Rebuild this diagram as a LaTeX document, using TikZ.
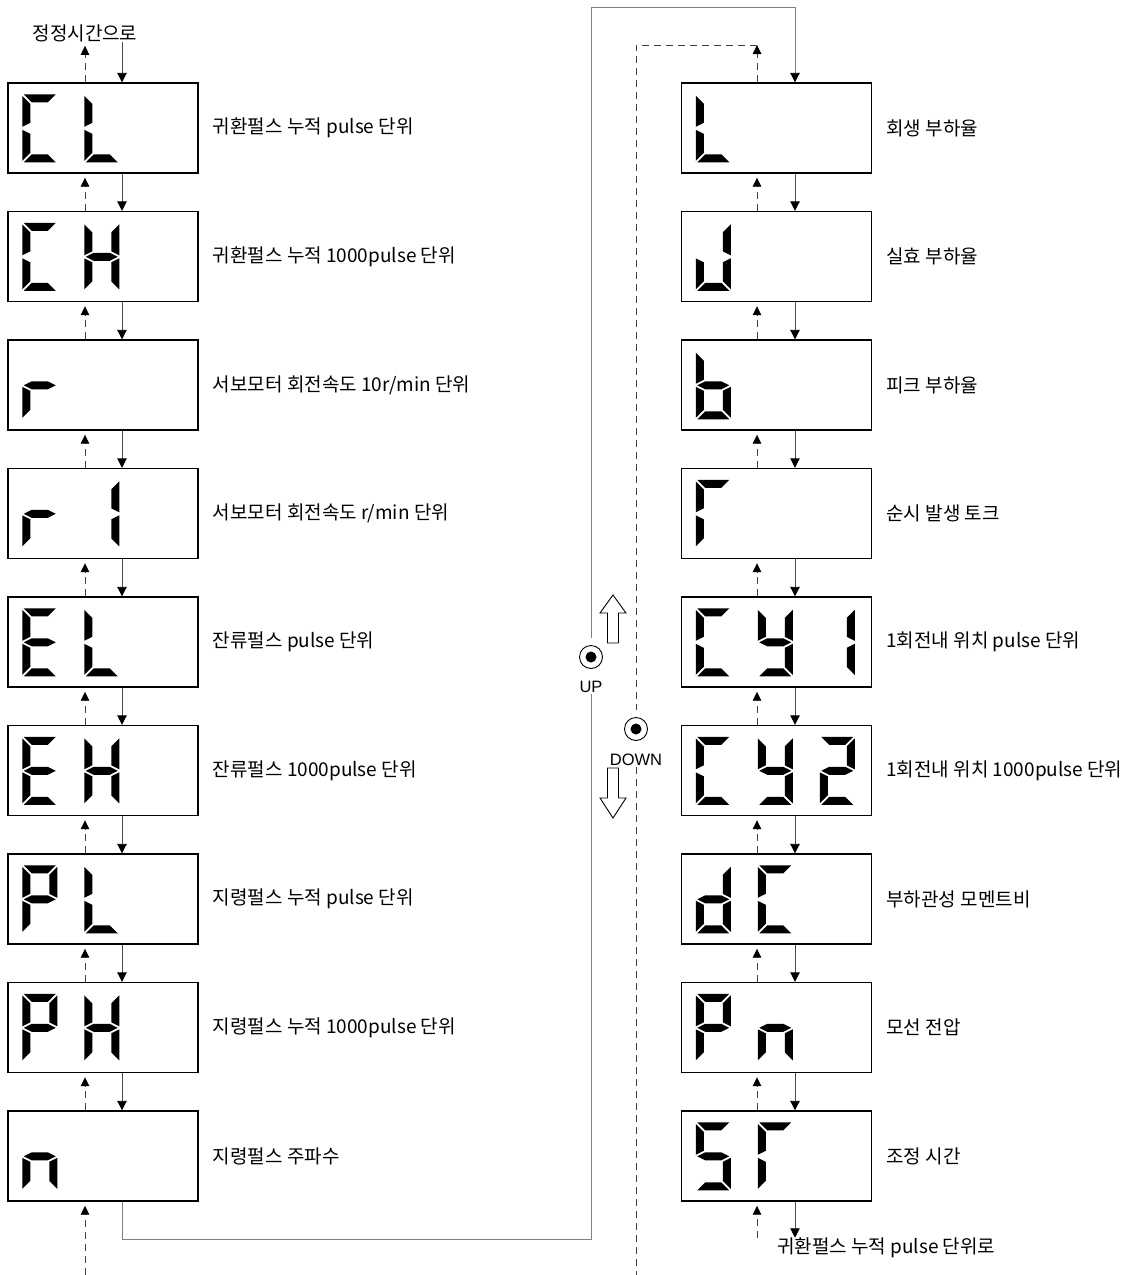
\documentclass[tikz,border=0pt]{standalone}
\usepackage{fontspec}
\newfontfamily\krfont{Noto Sans CJK KR}
\newfontfamily\btnfont{Liberation Sans}
\usetikzlibrary{calc,positioning,arrows.meta}

\def\sega{(1.5,0) -- (33.5,0) -- (25.5,8) -- (9.5,8) -- cycle}
\def\segb{(35,1.5) -- (35,32.5) -- (27,28.5) -- (27,9.5) -- cycle}
\def\segc{(35,35.5) -- (35,66.5) -- (27,58.5) -- (27,39.5) -- cycle}
\def\segd{(1.5,68) -- (33.5,68) -- (25.5,60) -- (9.5,60) -- cycle}
\def\sege{(0,35.5) -- (8,39.5) -- (8,58.5) -- (0,66.5) -- cycle}
\def\segf{(0,1.5) -- (8,9.5) -- (8,28.5) -- (0,32.5) -- cycle}
\def\segg{(1.5,34) -- (9.5,30) -- (25.5,30) -- (33.5,34) -- (25.5,38) -- (9.5,38) -- cycle}

\newcommand{\lcd}[3]{%
  \foreach \sg in {#3}{%
    \expandafter\let\expandafter\segpath\csname seg\sg\endcsname
    \fill[shift={($(#1.north west)+({15+62*#2},12)$)}] \segpath;}}

\begin{document}
\begin{tikzpicture}[x=1pt,y=-1pt,
    dispbox/.style={draw, line width=1.4pt, minimum width=190pt, minimum height=90pt, inner sep=0pt},
    lbl/.style={font=\krfont\fontsize{19}{22}\selectfont, inner sep=0pt},
    fwd/.style={draw=black!70, line width=0.9pt, -{Triangle[length=9.5pt,width=9.5pt,color=black]}},
    bwd/.style={draw=black!75, line width=0.9pt, dash pattern=on 7pt off 5pt, -{Triangle[length=9pt,width=8.5pt,color=black]}},
    loopline/.style={draw=black!50, line width=0.9pt},
    dashline/.style={draw=black!75, line width=0.9pt, dash pattern=on 7pt off 5pt},
    btn/.style={circle, draw, line width=0.9pt, minimum size=23pt, inner sep=0pt,
      path picture={\fill (path picture bounding box.center) circle (5.5pt);}},
    btnlbl/.style={font=\btnfont\fontsize{16.5}{18}\selectfont, inner sep=1pt},
    hollow/.style={draw, line width=0.9pt, fill=white}]
  \useasboundingbox (0,0) rectangle (1135,1275);

  \node[dispbox] (cl)   at (103,128)    {};
  \node[dispbox] (ch)   at (103,256.5)  {};
  \node[dispbox] (rten) at (103,385)    {};
  \node[dispbox] (rone) at (103,513.5)  {};
  \node[dispbox] (el)   at (103,642)    {};
  \node[dispbox] (eh)   at (103,770.5)  {};
  \node[dispbox] (pl)   at (103,899)    {};
  \node[dispbox] (ph)   at (103,1027.5) {};
  \node[dispbox] (nf)   at (103,1156)   {};

  \node[dispbox] (lr)  at (776.5,128)    {};
  \node[dispbox] (jr)  at (776.5,256.5)  {};
  \node[dispbox] (br)  at (776.5,385)    {};
  \node[dispbox] (tr)  at (776.5,513.5)  {};
  \node[dispbox] (cya) at (776.5,642)    {};
  \node[dispbox] (cyb) at (776.5,770.5)  {};
  \node[dispbox] (dc)  at (776.5,899)    {};
  \node[dispbox] (pn)  at (776.5,1027.5) {};
  \node[dispbox] (st)  at (776.5,1156)   {};

  \node[lbl, right=14pt of cl]   (cl-t)   {귀환펄스 누적 pulse 단위};
  \node[lbl, right=14pt of ch]   (ch-t)   {귀환펄스 누적 1000pulse 단위};
  \node[lbl, right=14pt of rten] (rten-t) {서보모터 회전속도 10r/min 단위};
  \node[lbl, right=14pt of rone] (rone-t) {서보모터 회전속도 r/min 단위};
  \node[lbl, right=14pt of el]   (el-t)   {잔류펄스 pulse 단위};
  \node[lbl, right=14pt of eh]   (eh-t)   {잔류펄스 1000pulse 단위};
  \node[lbl, right=14pt of pl]   (pl-t)   {지령펄스 누적 pulse 단위};
  \node[lbl, right=14pt of ph]   (ph-t)   {지령펄스 누적 1000pulse 단위};
  \node[lbl, right=14pt of nf]   (nf-t)   {지령펄스 주파수};

  \node[lbl, right=14pt of lr]  (lr-t)  {회생 부하율};
  \node[lbl, right=14pt of jr]  (jr-t)  {실효 부하율};
  \node[lbl, right=14pt of br]  (br-t)  {피크 부하율};
  \node[lbl, right=14pt of tr]  (tr-t)  {순시 발생 토크};
  \node[lbl, right=14pt of cya] (cya-t) {1회전내 위치 pulse 단위};
  \node[lbl, right=14pt of cyb] (cyb-t) {1회전내 위치 1000pulse 단위};
  \node[lbl, right=14pt of dc]  (dc-t)  {부하관성 모멘트비};
  \node[lbl, right=14pt of pn]  (pn-t)  {모선 전압};
  \node[lbl, right=14pt of st]  (st-t)  {조정 시간};

  \lcd{cl}{0}{a,f,e,d} \lcd{cl}{1}{f,e,d}
  \lcd{ch}{0}{a,f,e,d} \lcd{ch}{1}{f,e,b,c,g}
  \lcd{rten}{0}{e,g}
  \lcd{rone}{0}{e,g} \lcd{rone}{1}{b,c}
  \lcd{el}{0}{a,f,g,e,d} \lcd{el}{1}{f,e,d}
  \lcd{eh}{0}{a,f,g,e,d} \lcd{eh}{1}{f,e,b,c,g}
  \lcd{pl}{0}{a,b,f,g,e} \lcd{pl}{1}{f,e,d}
  \lcd{ph}{0}{a,b,f,g,e} \lcd{ph}{1}{f,e,b,c,g}
  \lcd{nf}{0}{g,e,c}

  \lcd{lr}{0}{f,e,d}
  \lcd{jr}{0}{b,c,d,e}
  \lcd{br}{0}{f,e,g,c,d}
  \lcd{tr}{0}{a,f,e}
  \lcd{cya}{0}{a,f,e,d} \lcd{cya}{1}{f,b,g,c,d} \lcd{cya}{2}{b,c}
  \lcd{cyb}{0}{a,f,e,d} \lcd{cyb}{1}{f,b,g,c,d} \lcd{cyb}{2}{a,b,g,e,d}
  \lcd{dc}{0}{b,c,g,e,d} \lcd{dc}{1}{a,f,e,d}
  \lcd{pn}{0}{a,b,f,g,e} \lcd{pn}{1}{g,e,c}
  \lcd{st}{0}{a,f,g,c,d} \lcd{st}{1}{a,f,e}

  \foreach \a/\b in {cl/ch,ch/rten,rten/rone,rone/el,el/eh,eh/pl,pl/ph,ph/nf}{
    \draw[fwd] ([xshift=19pt]\a.south) -- ([xshift=19pt]\b.north);
    \draw[bwd, shorten >=4pt] ([xshift=-18pt]\b.north) -- ([xshift=-18pt]\a.south);}
  \foreach \a/\b in {lr/jr,jr/br,br/tr,tr/cya,cya/cyb,cyb/dc,dc/pn,pn/st}{
    \draw[fwd] ([xshift=18.5pt]\a.south) -- ([xshift=18.5pt]\b.north);
    \draw[bwd, shorten >=4pt] ([xshift=-19.5pt]\b.north) -- ([xshift=-19.5pt]\a.south);}

  \node[lbl] (tolbl) at (85,33) {정정시간으로};
  \draw[bwd, shorten >=4pt] ([xshift=-18pt]cl.north) -- ([xshift=-18pt]cl.north |- tolbl.south);
  \draw[fwd] ([xshift=19pt]cl.north |- tolbl.south) -- ([xshift=19pt]cl.north);

  \coordinate (lbot) at (85,1275);
  \draw[bwd, shorten >=4pt] (lbot) -- ([xshift=-18pt]nf.south);

  \node[btn] (upbtn) at (591,657) {};
  \node[btnlbl] (uptxt) at (591,687) {UP};
  \node[btn] (dnbtn) at (636,729) {};
  \node[btnlbl] (dntxt) at (636,760) {DOWN};

  \coordinate (lpb) at (591,1239);
  \coordinate (lpt) at (591,7);
  \draw[loopline] ([xshift=19pt]nf.south) |- (lpb) -- (uptxt.south);
  \draw[loopline, -{Triangle[length=9.5pt,width=9.5pt,color=black]}, shorten <=7pt]
    (upbtn.north) -- (lpt) -| ([xshift=18.5pt]lr.north);

  \coordinate (dtop) at (636,45);
  \coordinate (dbot) at (636,1275);
  \draw[bwd] ([xshift=-19.5pt]lr.north) -- ([xshift=-19.5pt]lr.north |- dtop);
  \draw[dashline, shorten >=7pt] ([xshift=-19.5pt]lr.north |- dtop) -- (dtop) -- (dnbtn.north);
  \draw[dashline] (dntxt.south) -- (dbot);

  \node[lbl, anchor=west] (retlbl) at (777,1248) {귀환펄스 누적 pulse 단위로};
  \draw[fwd] ([xshift=18.5pt]st.south) -- ([xshift=18.5pt]st.south |- retlbl.north);
  \draw[bwd, shorten >=4pt] ([xshift=-19.5pt]st.south |- retlbl.north) -- ([xshift=-19.5pt]st.south);

  \draw[hollow] (607.5,643) -- (607.5,613) -- (600,613) -- (613,595) -- (626,613) -- (618.5,613) -- (618.5,643) -- cycle;
  \draw[hollow] (607.5,768) -- (607.5,798) -- (600,798) -- (613,818) -- (626,798) -- (618.5,798) -- (618.5,768) -- cycle;
\end{tikzpicture}
\end{document}
